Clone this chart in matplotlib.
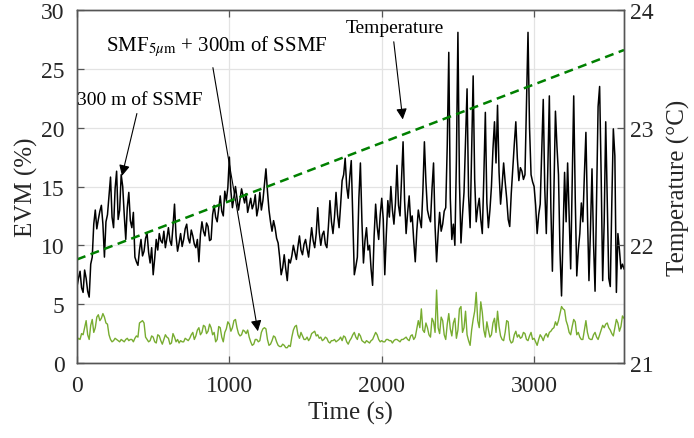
import numpy as np
import matplotlib
matplotlib.use("Agg")
import matplotlib.pyplot as plt

plt.rcParams["font.family"] = ["Liberation Serif", "DejaVu Serif"]
plt.rcParams["mathtext.fontset"] = "stix"

# sample times (s), one reading every 10 s
time_s = np.arange(0, 3600, 10)

# EVM (%) after 300 m of SSMF (black trace), one row per 100 s
evm_ssmf = [
    6.5, 7.2, 7.8, 6.4, 6.0, 7.9, 7.2, 6.1, 5.6, 8.4,
    9.0, 11.8, 13.0, 11.4, 12.2, 12.9, 13.4, 11.8, 9.0, 12.0,
    12.6, 14.2, 15.8, 12.4, 11.5, 14.8, 16.3, 12.2, 13.0, 16.0,
    15.0, 12.6, 10.5, 13.2, 14.5, 12.1, 11.5, 12.8, 9.0, 8.6,
    8.3, 9.6, 10.5, 9.1, 9.5, 10.6, 11.0, 9.4, 8.5, 9.8,
    7.5, 8.9, 10.5, 9.6, 11.0, 10.4, 10.2, 11.2, 9.8, 10.6,
    11.5, 10.4, 10.0, 11.6, 13.5, 10.8, 9.5, 10.2, 11.0, 9.9,
    10.5, 11.4, 11.8, 10.6, 10.2, 11.3, 10.8, 10.1, 9.8, 10.5,
    8.6, 10.9, 12.0, 11.2, 10.8, 11.9, 11.6, 10.4, 10.5, 12.6,
    13.4, 12.4, 12.0, 13.1, 14.2, 12.9, 12.5, 14.6, 13.8, 14.9,
    17.5, 14.6, 13.2, 14.1, 15.0, 14.0, 13.0, 13.9, 14.8, 14.2,
    13.6, 14.4, 12.8, 13.4, 14.0, 13.1, 13.5, 14.3, 12.5, 13.2,
    14.5, 13.0, 13.8, 15.2, 16.5, 14.6, 13.0, 12.0, 11.2, 12.1,
    11.5, 10.6, 10.2, 9.0, 7.5, 8.1, 9.2, 8.0, 7.0, 8.8,
    8.5, 9.1, 10.0, 9.4, 8.8, 9.9, 10.8, 9.6, 9.2, 10.1,
    10.5, 9.7, 9.0, 10.3, 11.5, 10.4, 9.8, 11.0, 13.2, 11.1,
    10.0, 10.9, 11.2, 10.1, 9.8, 11.6, 13.8, 12.0, 11.0, 12.4,
    14.5, 12.6, 11.5, 13.4, 15.5, 16.0, 17.4, 15.0, 14.0, 15.8,
    17.2, 12.5, 7.5, 8.2, 9.0, 14.0, 17.0, 12.0, 8.5, 10.4,
    11.5, 9.6, 10.0, 8.0, 6.6, 10.8, 13.5, 11.6, 10.5, 12.6,
    14.0, 12.2, 7.5, 10.9, 13.8, 12.4, 15.0, 13.0, 11.8, 13.6,
    16.8, 13.4, 12.5, 15.6, 18.8, 13.8, 11.0, 12.8, 14.2, 12.0,
    12.5, 10.4, 8.6, 11.2, 13.0, 12.2, 11.5, 14.6, 18.8, 15.4,
    13.0, 12.4, 12.0, 14.8, 17.0, 11.6, 8.6, 11.0, 12.8, 11.2,
    11.8, 12.9, 13.2, 18.5, 26.4, 14.0, 10.5, 11.8, 10.0, 17.2,
    28.1, 15.4, 10.2, 12.6, 14.5, 19.0, 23.3, 14.2, 11.5, 17.8,
    24.4, 15.6, 12.0, 13.2, 14.0, 12.2, 11.0, 15.8, 21.3, 13.6,
    11.5, 13.0, 15.0, 18.2, 20.5, 17.0, 21.9, 16.2, 13.5, 15.1,
    17.0, 15.4, 14.0, 12.2, 11.6, 14.4, 16.5, 18.6, 20.5, 17.4,
    15.5, 16.6, 16.3, 15.6, 16.0, 22.0, 28.1, 20.0, 16.0, 15.4,
    15.0, 13.4, 11.0, 12.6, 13.5, 18.0, 22.4, 14.8, 11.0, 16.5,
    22.7, 13.2, 7.8, 14.6, 21.4, 18.4, 16.0, 9.4, 5.7, 10.8,
    16.2, 12.0, 17.0, 12.4, 8.0, 15.2, 22.7, 14.0, 7.4, 9.6,
    11.0, 13.6, 12.0, 16.0, 19.6, 12.8, 7.0, 11.4, 16.5, 10.2,
    6.1, 14.0, 21.8, 23.5, 16.0, 7.0, 12.0, 20.5, 13.8, 7.2,
    6.5, 13.6, 19.9, 17.6, 6.0, 11.0, 9.6, 8.0, 8.4, 8.0,
]

# EVM (%) after SMF_5um + 300 m of SSMF (green trace), one row per 100 s
evm_smf5 = [
    1.9, 2.1, 2.0, 2.5, 2.4, 3.0, 3.6, 2.4, 2.0, 3.2,
    3.7, 2.6, 3.0, 3.9, 4.1, 3.6, 3.8, 4.2, 3.9, 3.4,
    3.3, 2.4, 2.0, 1.8, 1.9, 2.1, 2.0, 1.9, 1.8, 2.0,
    1.9, 1.8, 2.0, 2.1, 1.9, 2.0, 2.0, 1.8, 2.1, 2.3,
    2.2, 3.4, 3.5, 3.6, 3.4, 2.2, 2.0, 1.8, 1.9, 2.3,
    2.2, 1.8, 1.7, 2.4, 2.3, 1.9, 1.6, 2.0, 2.4, 2.2,
    2.1, 1.6, 1.7, 2.5, 2.2, 1.8, 2.0, 1.7, 1.9, 1.8,
    1.8, 2.1, 2.0, 1.9, 2.1, 2.4, 2.6, 2.0, 2.3, 2.8,
    3.0, 2.4, 2.6, 3.2, 3.1, 2.5, 2.7, 3.3, 3.0, 2.4,
    2.6, 1.8, 2.0, 3.1, 3.0, 2.2, 1.8, 2.6, 2.9, 3.5,
    3.3, 2.7, 3.0, 3.6, 3.7, 3.0, 2.5, 2.3, 2.4, 2.8,
    2.7, 2.5, 2.8, 2.2, 1.8, 1.5, 1.6, 2.0, 2.0, 1.8,
    1.9, 2.6, 2.9, 3.0, 2.9, 2.0, 1.5, 1.6, 1.9, 2.3,
    2.2, 1.8, 1.5, 1.4, 1.4, 1.6, 1.5, 1.3, 1.3, 1.5,
    1.4, 2.2, 2.8, 3.1, 3.2, 2.4, 2.1, 2.6, 2.3, 2.0,
    2.0, 2.2, 1.9, 2.1, 2.5, 2.6, 2.7, 2.3, 2.4, 2.1,
    2.2, 1.9, 2.0, 2.2, 2.1, 1.8, 1.7, 1.9, 1.9, 2.0,
    1.8, 1.9, 2.0, 2.2, 1.9, 2.3, 2.2, 1.8, 1.6, 1.9,
    2.1, 2.4, 2.6, 2.2, 2.0, 2.5, 2.3, 1.9, 1.8, 1.7,
    1.9, 1.8, 1.7, 1.9, 2.0, 2.3, 2.6, 2.4, 2.0, 1.8,
    1.9, 1.8, 1.8, 2.0, 2.0, 1.9, 1.9, 1.7, 1.9, 2.0,
    2.0, 1.9, 1.8, 2.0, 2.0, 2.1, 2.2, 2.0, 1.9, 2.3,
    2.4, 2.0, 2.2, 2.9, 3.6, 3.0, 4.6, 2.8, 2.6, 3.4,
    3.0, 2.4, 2.2, 3.8, 3.5, 2.6, 6.2, 3.0, 2.5, 3.9,
    3.6, 2.4, 2.0, 3.3, 4.2, 2.9, 2.3, 3.4, 3.8, 2.1,
    2.8, 4.6, 4.8, 2.6, 3.0, 4.4, 2.4, 1.9, 1.5, 2.8,
    3.7, 4.4, 6.0, 3.6, 3.0, 5.2, 4.3, 2.8, 2.2, 3.5,
    2.8, 2.2, 2.4, 3.4, 3.8, 2.6, 4.4, 3.1, 2.3, 2.0,
    1.9, 2.6, 3.6, 3.5, 2.0, 1.7, 1.8, 2.4, 2.7, 2.2,
    2.4, 2.1, 2.2, 2.6, 2.5, 2.0, 1.9, 2.3, 2.6, 2.0,
    2.1, 1.8, 1.5, 2.0, 2.4, 2.2, 1.9, 2.3, 2.5, 2.2,
    2.6, 2.7, 2.9, 3.0, 3.5, 3.2, 3.6, 4.2, 4.8, 4.6,
    4.5, 3.6, 3.2, 2.6, 2.4, 3.1, 3.7, 3.5, 2.4, 2.6,
    2.2, 2.0, 2.0, 2.8, 3.6, 2.6, 2.1, 2.0, 2.0, 2.4,
    2.6, 2.2, 2.0, 2.4, 2.8, 3.2, 3.0, 3.3, 3.4, 3.0,
    2.8, 2.5, 2.3, 3.0, 3.7, 3.4, 2.7, 3.1, 4.0, 3.8,
]

# temperature (deg C), linear trend over the measurement
temp_time = [0, 3590]
temp_c = [21.88, 23.66]

fig = plt.figure(figsize=(6.94, 4.39), dpi=100)
ax = fig.add_axes([77 / 694, 75 / 439, 547 / 694, 353 / 439])
ax2 = ax.twinx()

ax.plot(time_s, evm_smf5, color="#77AC30", lw=1.0, zorder=3)
ax.plot(time_s, evm_ssmf, color="black", lw=1.1, zorder=4)
ax2.plot(temp_time, temp_c, color="#008000", lw=1.8, dashes=(3.6, 2.2))

ax.set_xlim(0, 3590)
ax.set_ylim(0, 30)
ax2.set_ylim(21, 24)
ax.set_xticks([0, 1000, 2000, 3000])
ax.set_yticks([0, 5, 10, 15, 20, 25, 30])
ax2.set_yticks([21, 22, 23, 24])

ax.grid(True, color="#e3e3e3", lw=0.9)
ax.set_axisbelow(True)

edge = "#555555"
for a in (ax, ax2):
    for s in a.spines.values():
        s.set_color(edge)
        s.set_linewidth(1.0)
ax.tick_params(direction="in", length=5, width=0.9, color=edge, labelsize=17,
               labelcolor="#262626", top=True)
ax.tick_params(axis="x", pad=9)
ax.tick_params(axis="y", pad=9)
ax2.tick_params(direction="in", length=5, width=0.9, color=edge, labelsize=17,
                labelcolor="#262626", pad=4)

ax.set_xlabel("Time (s)", fontsize=18, color="#262626", labelpad=3)
ax.set_ylabel("EVM (%)", fontsize=18, color="#262626", labelpad=2)
ax2.set_ylabel("Temperature (°C)", fontsize=18, color="#262626", labelpad=10)

arrow = dict(arrowstyle="-|>", color="black", lw=0.8, mutation_scale=16,
             shrinkA=0, shrinkB=0)
ax.text(2085, 28.5, "Temperature", fontsize=14, ha="center", va="center")
ax.annotate("", xy=(2138, 20.7), xytext=(2079, 27.3), arrowprops=arrow)
ax.text(918, 27.0, r"SMF$_{5\mu\mathrm{m}}$ + 300m of SSMF", fontsize=15,
        ha="center", va="center")
ax.annotate("", xy=(1187, 2.7), xytext=(892, 25.1), arrowprops=arrow)
ax.text(413, 22.4, "300 m of SSMF", fontsize=14, ha="center", va="center")
ax.annotate("", xy=(295, 15.9), xytext=(393, 21.2), arrowprops=arrow)

fig.savefig("out.png", dpi=100)
